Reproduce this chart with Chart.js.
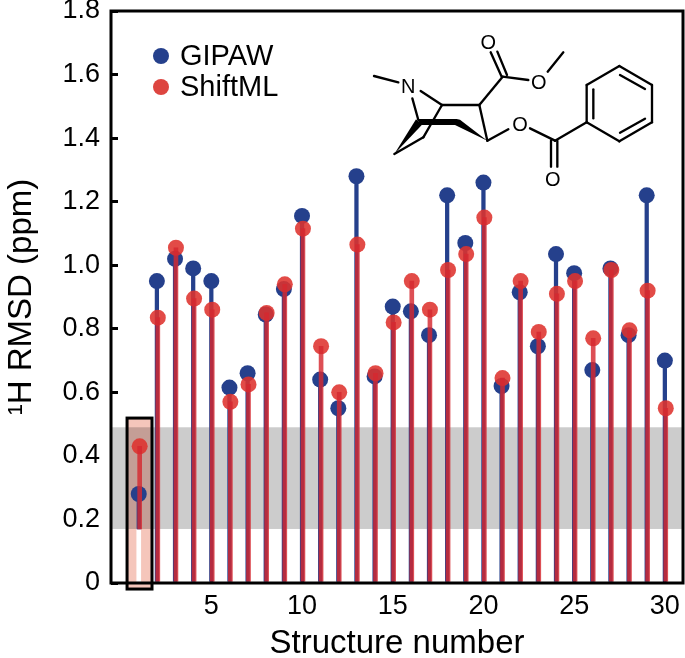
<!DOCTYPE html>
<html><head><meta charset="utf-8">
<style>html,body{margin:0;padding:0;background:#fff}canvas{display:block}</style>
<script src="https://cdn.jsdelivr.net/npm/chart.js@4"></script>
</head><body><canvas id="c" width="685" height="658"></canvas>
<script>
const structures=[1,2,3,4,5,6,7,8,9,10,11,12,13,14,15,16,17,18,19,20,21,22,23,24,25,26,27,28,29,30];
const gipaw=[.28,.95,1.02,.99,.95,.615,.66,.845,.925,1.155,.64,.55,1.28,.65,.87,.855,.78,1.22,1.07,1.26,.62,.915,.745,1.035,.975,.67,.99,.78,1.22,.70];
const shiftml=[.43,.835,1.055,.895,.86,.57,.625,.85,.94,1.115,.745,.60,1.065,.66,.82,.95,.86,.985,1.035,1.15,.645,.95,.79,.91,.95,.77,.985,.795,.92,.55];
const xTickValues=[5,10,15,20,25,30];
const yTickValues=[0,.2,.4,.6,.8,1,1.2,1.4,1.6,1.8];
const bandRange=[.17,.49];
const FONT='"Liberation Sans",Arial,sans-serif';
const BLUE='#25408c',RED='rgba(222,50,46,.88)',STEM='rgba(214,40,48,.82)';
const RSHIFT=.05;
const highlight={x0:.355,x1:1.73,y0:-.019,y1:.519};

const stem=(vals,shift)=>vals.map((v,i)=>({x:structures[i]+shift,y:i===0?[bandRange[0],v]:[0,v]}));
const dots=(vals,shift)=>vals.map((v,i)=>({x:structures[i]+shift,y:v}));

const bonds=[[42,168,115,187],[182,213,246,255],[157,235,175,300],[246,255,358,255],[358,255,428,170],
[392,97,425,170],[412,95,441,165],[428,170,505,180],[563,155,610,97],[358,255,382,362],[382,362,445,328],
[510,325,585,362],[573,362,573,440],[592,362,592,440],[585,362,680,307],
[680,307,680,195],[680,195,778,138],[778,138,876,195],[876,195,876,307],[876,307,778,364],[778,364,680,307],
[700,295,700,208],[780,165,855,207],[780,338,855,296],[246,255,190,352],[190,352,103,402]];
const wedges=[[[168,298],[186,314],[103,402]],[[175,297],[290,297],[300,299],[382,362],[285,315],[175,315]]];
const atoms=[['N',145,201],['O',385,67],['O',536,187],['O',480,315],['O',578,480]];

const decor={id:'decor',
 beforeDatasetsDraw(ch){
  const {ctx,chartArea:a,scales:{x,y}}=ch;ctx.save();
  ctx.fillStyle='#cccccc';
  ctx.fillRect(a.left,y.getPixelForValue(bandRange[1]),a.width,y.getPixelForValue(bandRange[0])-y.getPixelForValue(bandRange[1]));
  ctx.globalCompositeOperation='multiply';ctx.fillStyle='#f5c6bb';
  ctx.fillRect(x.getPixelForValue(highlight.x0),y.getPixelForValue(highlight.y1),x.getPixelForValue(highlight.x1)-x.getPixelForValue(highlight.x0),y.getPixelForValue(highlight.y0)-y.getPixelForValue(highlight.y1));
  ctx.restore();
 },
 afterDatasetsDraw(ch){
  const {ctx,chartArea:a,scales:{x,y}}=ch;ctx.save();
  ctx.strokeStyle='#000';ctx.lineWidth=3;ctx.strokeRect(a.left,a.top,a.width,a.height);
  ctx.strokeRect(x.getPixelForValue(highlight.x0),y.getPixelForValue(highlight.y1),x.getPixelForValue(highlight.x1)-x.getPixelForValue(highlight.x0),y.getPixelForValue(highlight.y0)-y.getPixelForValue(highlight.y1));
  // legend
  [['GIPAW','#25408c',56],['ShiftML','#dd4540',87]].forEach(([t,c,py])=>{
   ctx.fillStyle=c;ctx.beginPath();ctx.arc(161,py,8,0,Math.PI*2);ctx.fill();
   ctx.fillStyle='#000';ctx.font='29px '+FONT;ctx.textAlign='left';ctx.textBaseline='middle';ctx.fillText(t,180,py+1);
  });
  // molecule
  ctx.translate(360,20);ctx.scale(1/3,1/3);
  ctx.strokeStyle='#000';ctx.lineWidth=7;ctx.lineCap='round';
  bonds.forEach(b=>{ctx.beginPath();ctx.moveTo(b[0],b[1]);ctx.lineTo(b[2],b[3]);ctx.stroke();});
  ctx.fillStyle='#000';
  wedges.forEach(w=>{ctx.beginPath();w.forEach((p,i)=>i?ctx.lineTo(p[0],p[1]):ctx.moveTo(p[0],p[1]));ctx.closePath();ctx.fill();});
  ctx.font='60px '+FONT;ctx.textAlign='center';ctx.textBaseline='middle';
  atoms.forEach(t=>ctx.fillText(t[0],t[1],t[2]+2));
  ctx.restore();
 }};
const noPad=s=>{s.paddingTop=0;s.paddingBottom=0;s.paddingLeft=0;s.paddingRight=0;};

new Chart(document.getElementById('c'),{
 type:'bar',
 data:{datasets:[
  {label:'base',type:'bar',data:[{x:structures[0],y:bandRange[0]}],backgroundColor:'#ffffff',barThickness:4,grouped:false,order:8},
  {label:'GIPAW stem',type:'bar',data:stem(gipaw,0),backgroundColor:BLUE,barThickness:3.6,grouped:false,order:7},
  {label:'GIPAW',type:'scatter',data:dots(gipaw,0),backgroundColor:BLUE,borderWidth:0,pointRadius:8,order:6},
  {label:'ShiftML',type:'scatter',data:dots(shiftml,RSHIFT),backgroundColor:RED,borderWidth:0,pointRadius:8,order:5},
  {label:'ShiftML stem',type:'bar',data:stem(shiftml,RSHIFT),backgroundColor:STEM,barThickness:4,grouped:false,order:4}
 ]},
 options:{
  responsive:false,animation:false,
  layout:{autoPadding:false,padding:{top:11,right:2,left:0,bottom:0}},
  plugins:{legend:{display:false},tooltip:{enabled:false}},
  scales:{
   x:{type:'linear',min:-.53,max:31,offset:false,
    afterBuildTicks:s=>{s.ticks=xTickValues.map(v=>({value:v}));},
    afterFit:s=>{s.height=75;noPad(s);},
    grid:{offset:false,drawOnChartArea:false,drawTicks:true,tickLength:-7,color:'#000',lineWidth:3},
    border:{display:false},
    ticks:{color:'#000',font:{family:FONT,size:27},padding:14,maxRotation:0,autoSkip:false},
    title:{display:true,text:'Structure number',color:'#000',font:{family:FONT,size:33,lineHeight:1},padding:{top:0,bottom:-2}}
   },
   y:{type:'linear',min:0,max:1.8,
    afterBuildTicks:s=>{s.ticks=yTickValues.map(v=>({value:v}));},
    afterFit:s=>{s.width=111;noPad(s);},
    grid:{drawOnChartArea:false,drawTicks:true,tickLength:-7,color:'#000',lineWidth:3},
    border:{display:false},
    ticks:{color:'#000',font:{family:FONT,size:27},padding:18,callback:v=>v===0?'0':v.toFixed(1),autoSkip:false},
    title:{display:true,text:'¹H RMSD (ppm)',color:'#000',font:{family:FONT,size:33,lineHeight:1},padding:{top:5,bottom:0}}
   }
  }
 },
 plugins:[decor]
});
</script></body></html>
